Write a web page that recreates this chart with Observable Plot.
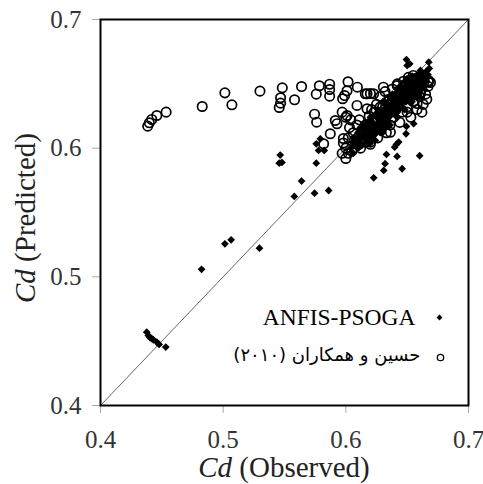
<!DOCTYPE html>
<html><head><meta charset="utf-8">
<script src="https://cdn.jsdelivr.net/npm/d3@7"></script>
<script src="https://cdn.jsdelivr.net/npm/@observablehq/plot@0.6"></script>
<style>body{margin:0;background:#fff}</style>
</head><body><div id="chart"></div>
<script>
const xTicks = [0.4, 0.5, 0.6, 0.7];
const yTicks = [0.4, 0.5, 0.6, 0.7];
const diagonal = [0.4, 0.7];
const seriesNames = ["ANFIS-PSOGA", "حسین و همکاران (۲۰۱۰)"];
const xTitle = ["Cd", " (Observed)"];
const yTitle = ["Cd", " (Predicted)"];

// ANFIS-PSOGA: [observed, predicted]
const anfisData = [
  [0.4377,0.4570],[0.4390,0.4545],[0.4404,0.4527],[0.4418,0.4519],[0.4431,0.4511],[0.4459,0.4493],[0.4478,0.4475],[0.4532,0.4454],
  [0.4824,0.5058],[0.5014,0.5257],[0.5065,0.5288],[0.5296,0.5223],
  [0.5580,0.5625],[0.5639,0.5744],[0.5745,0.5650],[0.5860,0.5671],
  [0.5465,0.5946],[0.5457,0.5883],[0.5479,0.5889],[0.5759,0.5883],[0.5778,0.5982],[0.5824,0.5982],
  [0.5792,0.6073],[0.5759,0.6034],
  [0.6553,0.6190],[0.6494,0.6169],[0.6491,0.6112],[0.6431,0.6047],[0.6412,0.6029],[0.6398,0.6008],
  [0.6331,0.5951],[0.6418,0.5936],[0.6602,0.5941],[0.6320,0.5879],[0.6309,0.5827],[0.6459,0.5840],[0.6227,0.5770],
  [0.6494,0.6689],[0.6500,0.6643],[0.6521,0.6656],[0.6676,0.6668],[0.6608,0.6604],
  [0.604,0.600],[0.606,0.596],[0.608,0.604],[0.610,0.600],[0.612,0.608],[0.613,0.602],[0.615,0.612],[0.616,0.604],
  [0.617,0.608],[0.618,0.616],[0.619,0.610],[0.620,0.604],[0.621,0.614],[0.622,0.620],[0.623,0.610],[0.624,0.616],
  [0.625,0.624],[0.626,0.614],[0.627,0.620],[0.628,0.628],[0.629,0.618],[0.630,0.624],[0.631,0.630],[0.632,0.620],
  [0.633,0.626],[0.634,0.634],[0.635,0.624],[0.636,0.630],[0.637,0.638],[0.638,0.628],[0.639,0.634],[0.640,0.640],
  [0.641,0.630],[0.642,0.636],[0.643,0.644],[0.644,0.634],[0.645,0.640],[0.646,0.646],[0.647,0.636],[0.648,0.642],
  [0.649,0.648],[0.650,0.638],[0.651,0.644],[0.652,0.650],[0.653,0.640],[0.654,0.646],[0.655,0.652],[0.656,0.642],
  [0.657,0.648],[0.658,0.654],[0.659,0.644],[0.660,0.650],[0.661,0.656],[0.662,0.646],[0.663,0.652],[0.665,0.656],
  [0.614,0.618],[0.610,0.612],[0.606,0.608],[0.620,0.624],[0.626,0.630],[0.632,0.636],[0.638,0.642],[0.644,0.648],
  [0.650,0.654],[0.624,0.606],[0.630,0.612],[0.636,0.618],[0.642,0.624],[0.648,0.630],[0.654,0.636],[0.660,0.640],
  [0.607,0.602],[0.611,0.606],[0.615,0.608],[0.619,0.614],[0.623,0.618],[0.627,0.622],[0.631,0.626],[0.635,0.630],
  [0.639,0.638],[0.643,0.640],[0.647,0.644],[0.651,0.648],[0.655,0.648],[0.659,0.654],[0.663,0.658],[0.628,0.612],
  [0.634,0.618],[0.640,0.626],[0.646,0.632],[0.652,0.636],[0.658,0.642],[0.618,0.620],[0.624,0.626],[0.630,0.636],
  [0.636,0.640],[0.642,0.646],[0.648,0.652],[0.654,0.656],[0.612,0.616],[0.666,0.660],[0.668,0.662],
  [0.605,0.597],[0.609,0.603],[0.611,0.601],[0.613,0.609],[0.616,0.611],[0.617,0.603],[0.620,0.613],[0.621,0.609],
  [0.622,0.607],[0.623,0.614],[0.625,0.612],[0.626,0.619],[0.627,0.615],[0.629,0.622],[0.630,0.618],[0.631,0.615],
  [0.632,0.627],[0.633,0.622],[0.634,0.621],[0.635,0.627],[0.636,0.625],[0.637,0.629],[0.638,0.633],[0.639,0.628],
  [0.640,0.632],[0.641,0.636],[0.642,0.632],[0.643,0.630],[0.644,0.638],[0.645,0.636],[0.646,0.640],[0.647,0.640],
  [0.648,0.646],[0.649,0.636],[0.650,0.642],[0.651,0.640],[0.652,0.646],[0.653,0.644],[0.654,0.650],[0.655,0.644],
  [0.656,0.648],[0.657,0.652],[0.658,0.646],[0.659,0.648],[0.660,0.654],[0.661,0.650],[0.662,0.652],[0.663,0.648],
  [0.664,0.656],[0.665,0.652],[0.667,0.657],[0.612,0.604],[0.618,0.606],[0.624,0.612],[0.628,0.624],[0.633,0.630],
  [0.637,0.632],[0.641,0.638],[0.645,0.648],[0.649,0.644],[0.653,0.652],[0.657,0.656],[0.660,0.658]
];

// Hossein et al. (2010): [observed, predicted]
const hosseinData = [
  [0.4385,0.6171],[0.4398,0.6197],[0.4418,0.6223],[0.4459,0.6254],[0.4535,0.6280],[0.4829,0.6324],
  [0.5014,0.6430],[0.5071,0.6337],[0.5300,0.6443],[0.5482,0.6469],[0.5468,0.6392],[0.5468,0.6350],
  [0.5457,0.6316],[0.5582,0.6376],[0.5639,0.6479],[0.5784,0.6485],[0.5759,0.6420],[0.5868,0.6497],
  [0.5868,0.6456],[0.5868,0.6404],[0.6018,0.6516],[0.6010,0.6446],[0.5990,0.6409],[0.5974,0.6384],
  [0.6094,0.6474],[0.5745,0.6264],[0.5762,0.6202],[0.6676,0.6524],
  [0.6159,0.6423],[0.6200,0.6425],[0.6306,0.6474],[0.6418,0.6487],[0.5928,0.6190],[0.5980,0.6075],
  [0.6020,0.5960],[0.6673,0.6513],[0.6608,0.6425],[0.6581,0.6347],[0.6500,0.6280],[0.6363,0.6124],
  [0.6173,0.6423],[0.6227,0.6423],[0.6622,0.6500],[0.6550,0.6565],[0.6200,0.6047],[0.6091,0.6034],
  [0.5873,0.6112],[0.5819,0.6034],[0.5914,0.6215],[0.6010,0.6254],[0.6091,0.6332],[0.6173,0.6306],[0.6000,0.5920],
  [0.597,0.596],[0.600,0.600],[0.598,0.604],[0.602,0.608],[0.605,0.598],[0.606,0.612],[0.603,0.616],[0.608,0.604],
  [0.610,0.608],[0.609,0.618],[0.612,0.600],[0.613,0.614],[0.611,0.622],[0.615,0.606],[0.600,0.624],[0.597,0.628],
  [0.604,0.622],[0.616,0.618],[0.618,0.610],[0.619,0.625],[0.620,0.603],[0.621,0.630],[0.622,0.614],[0.624,0.620],
  [0.625,0.634],[0.626,0.608],[0.627,0.626],[0.628,0.640],[0.629,0.616],[0.630,0.632],[0.631,0.622],[0.632,0.644],
  [0.633,0.612],[0.634,0.628],[0.635,0.638],[0.636,0.618],[0.637,0.634],[0.638,0.646],[0.639,0.624],[0.640,0.640],
  [0.641,0.630],[0.642,0.650],[0.643,0.636],[0.644,0.620],[0.645,0.644],[0.646,0.628],[0.647,0.652],[0.648,0.638],
  [0.649,0.646],[0.650,0.632],[0.651,0.655],[0.652,0.642],[0.653,0.624],[0.654,0.648],[0.655,0.636],[0.656,0.654],
  [0.657,0.644],[0.658,0.630],[0.659,0.650],[0.660,0.640],[0.661,0.656],[0.662,0.646],[0.663,0.634],[0.664,0.652],
  [0.665,0.642],[0.667,0.648],[0.669,0.651],[0.662,0.628],[0.666,0.638],
  [0.614,0.612],[0.617,0.614],[0.619,0.618],[0.622,0.622],[0.623,0.628],[0.626,0.622],[0.628,0.632],[0.630,0.626],
  [0.632,0.630],[0.634,0.636],[0.636,0.632],[0.638,0.638],[0.640,0.634],[0.642,0.640],[0.644,0.644],[0.646,0.638],
  [0.648,0.648],[0.650,0.644],[0.652,0.648],[0.654,0.642],[0.656,0.650],[0.658,0.648],[0.660,0.652],[0.607,0.606],
  [0.611,0.610]
];

const serif = "'Liberation Serif', 'Times New Roman', serif";
const arabicFont = "'DejaVu Sans', 'Liberation Serif', sans-serif";

const plot = Plot.plot({
  width: 483, height: 484,
  marginLeft: 100, marginRight: 15, marginTop: 19, marginBottom: 79,
  x: {domain: [0.4, 0.7]},
  y: {domain: [0.4, 0.7]},
  style: {fontFamily: serif, background: "#fff", color: "#000"},
  marks: [
    Plot.axisX({ticks: xTicks, tickSize: 8, tickPadding: 17, tickFormat: d => d.toFixed(1),
      stroke: "#aaa", fill: "#333", fontSize: 25, fontFamily: serif, label: null}),
    Plot.axisY({ticks: yTicks, tickSize: 8, tickPadding: 11, tickFormat: d => d.toFixed(1),
      stroke: "#aaa", fill: "#333", fontSize: 25, fontFamily: serif, label: null}),
    Plot.line(diagonal, {x: d => d, y: d => d, stroke: "#555", strokeWidth: 0.9}),
    Plot.dot(hosseinData, {x: d => d[0], y: d => d[1], r: 4.7, stroke: "#000", strokeWidth: 1.7, fill: "none"}),
    Plot.dot(anfisData, {x: d => d[0], y: d => d[1], symbol: "diamond2", r: 3.5, fill: "#000", stroke: "none"}),
    Plot.frame({stroke: "#000", strokeWidth: 2}),
    Plot.text([seriesNames[0]], {text: d => d, frameAnchor: "bottom-right", dx: -53, dy: -88,
      lineAnchor: "middle", textAnchor: "end", fontSize: 23.5, fontFamily: serif, fill: "#000"}),
    Plot.text([seriesNames[1]], {text: d => d, frameAnchor: "bottom-right", dx: -48, dy: -50,
      lineAnchor: "middle", textAnchor: "end", fontSize: 18, fontFamily: arabicFont, fill: "#000"}),
    Plot.dot([seriesNames[0]], {frameAnchor: "bottom-right", dx: -29, dy: -88, symbol: "diamond2", r: 2.6, fill: "#000", stroke: "none"}),
    Plot.dot([seriesNames[1]], {frameAnchor: "bottom-right", dx: -28, dy: -48, r: 3.2, stroke: "#000", strokeWidth: 1.3, fill: "none"})
  ]
});

// Axis titles with italic "Cd"
const svg = d3.select(plot);
const xr = plot.scale("x").range, yr = plot.scale("y").range;
const xMid = (xr[0] + xr[1]) / 2, yMid = (yr[0] + yr[1]) / 2;
const tx = svg.append("text").attr("x", xMid).attr("y", 477)
  .attr("text-anchor", "middle").attr("font-family", serif).attr("font-size", 29).attr("fill", "#222");
tx.append("tspan").attr("font-style", "italic").text(xTitle[0]);
tx.append("tspan").text(xTitle[1]);
const ty = svg.append("text").attr("transform", `translate(35,${yMid + 6}) rotate(-90)`)
  .attr("text-anchor", "middle").attr("font-family", serif).attr("font-size", 29).attr("fill", "#222");
ty.append("tspan").attr("font-style", "italic").text(yTitle[0]);
ty.append("tspan").text(yTitle[1]);

document.getElementById("chart").appendChild(plot);
</script>
</body></html>
